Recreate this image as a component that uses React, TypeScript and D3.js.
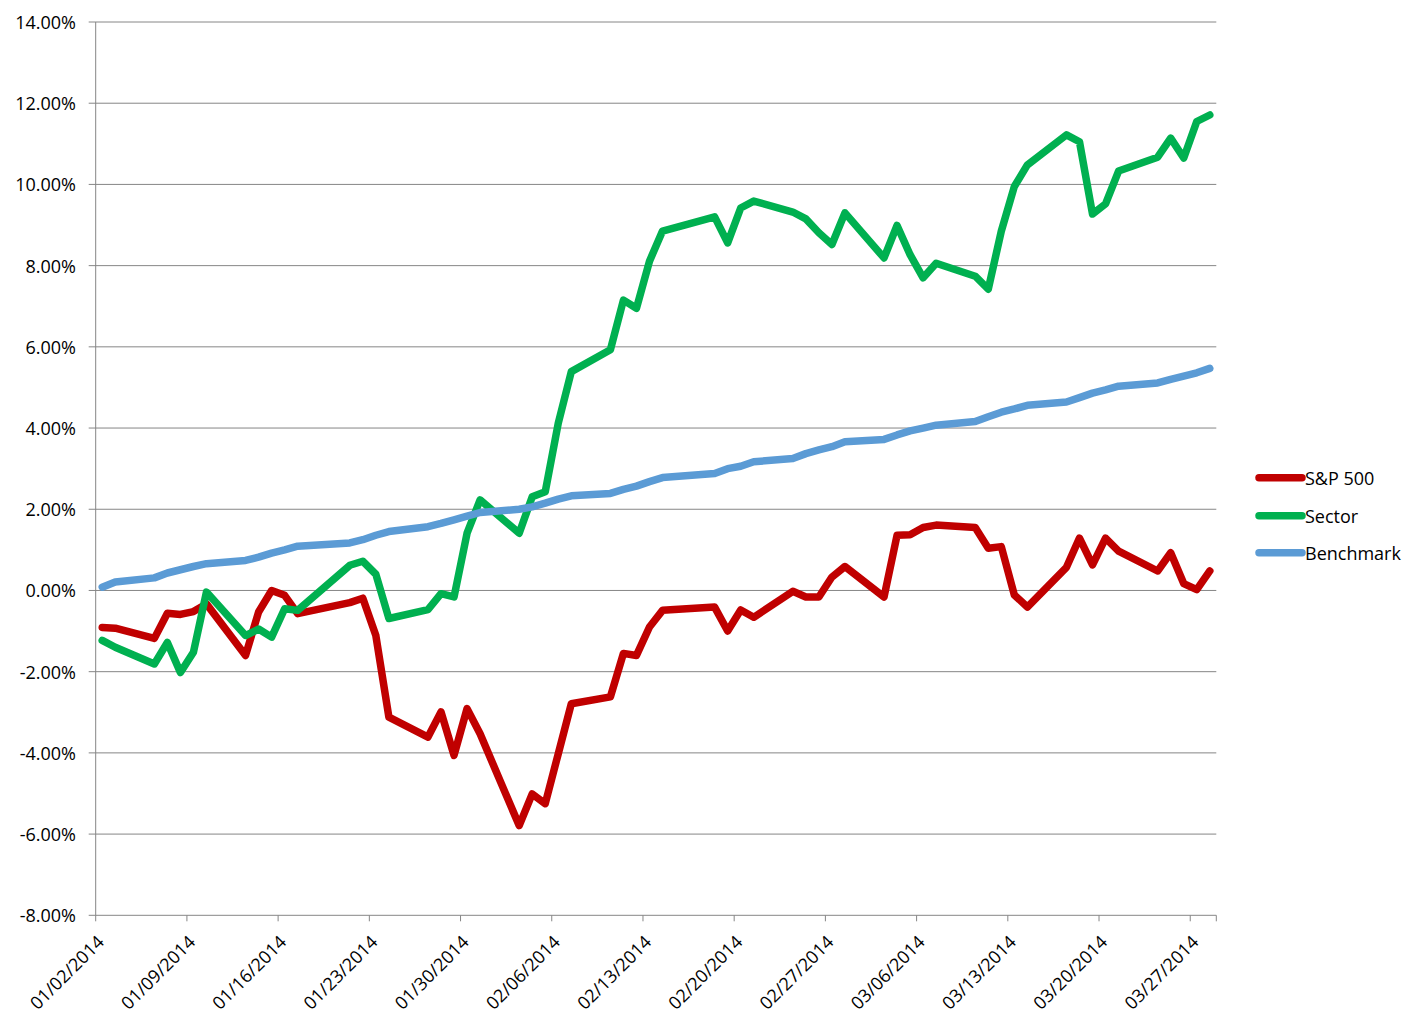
import React from "react";
import * as d3 from "d3";

const tradingDates: string[] = [
  "2014-01-02","2014-01-03","2014-01-06","2014-01-07","2014-01-08","2014-01-09","2014-01-10",
  "2014-01-13","2014-01-14","2014-01-15","2014-01-16","2014-01-17","2014-01-21","2014-01-22",
  "2014-01-23","2014-01-24","2014-01-27","2014-01-28","2014-01-29","2014-01-30","2014-01-31",
  "2014-02-03","2014-02-04","2014-02-05","2014-02-06","2014-02-07","2014-02-10","2014-02-11",
  "2014-02-12","2014-02-13","2014-02-14","2014-02-18","2014-02-19","2014-02-20","2014-02-21",
  "2014-02-24","2014-02-25","2014-02-26","2014-02-27","2014-02-28",
  "2014-03-03","2014-03-04","2014-03-05","2014-03-06","2014-03-07","2014-03-10","2014-03-11",
  "2014-03-12","2014-03-13","2014-03-14","2014-03-17","2014-03-18","2014-03-19","2014-03-20",
  "2014-03-21","2014-03-24","2014-03-25","2014-03-26","2014-03-27","2014-03-28",
];

// values in percent
const sp500: number[] = [
  -0.91, -0.93, -1.18, -0.56, -0.59, -0.52, -0.33, -1.60, -0.53, 0.0, -0.12, -0.57, -0.30, -0.19,
  -1.11, -3.12, -3.61, -2.99, -4.06, -2.91, -3.53,
  -5.79, -5.01, -5.25, -4.02, -2.79, -2.62, -1.55, -1.60, -0.90, -0.49, -0.41, -1.0, -0.48, -0.66,
  -0.02, -0.16, -0.16, 0.33, 0.59,
  -0.16, 1.36, 1.37, 1.55, 1.61, 1.55, 1.04, 1.08, -0.11, -0.41, 0.57, 1.29, 0.63, 1.29,
  0.97, 0.48, 0.93, 0.17, 0.02, 0.48,
];

const sector: number[] = [
  -1.23, -1.40, -1.81, -1.28, -2.02, -1.52, -0.04, -1.11, -0.95, -1.15, -0.45, -0.49, 0.62, 0.72,
  0.40, -0.69, -0.47, -0.08, -0.16, 1.41, 2.23,
  1.41, 2.31, 2.43, 4.12, 5.39, 5.93, 7.15, 6.95, 8.11, 8.85, 9.20, 8.56, 9.42, 9.59,
  9.32, 9.15, 8.81, 8.52, 9.30,
  8.19, 8.99, 8.27, 7.70, 8.06, 7.74, 7.42, 8.85, 9.95, 10.48, 11.22, 11.05, 9.27, 9.52,
  10.33, 10.67, 11.14, 10.65, 11.55, 11.71,
];

const benchmark: number[] = [
  0.08, 0.21, 0.31, 0.43, 0.51, 0.59, 0.66, 0.74, 0.82, 0.92, 1.00, 1.09, 1.17, 1.25,
  1.36, 1.45, 1.57, 1.65, 1.74, 1.83, 1.92,
  2.00, 2.06, 2.15, 2.25, 2.33, 2.39, 2.49, 2.57, 2.68, 2.78, 2.88, 3.00, 3.06, 3.17,
  3.25, 3.37, 3.46, 3.54, 3.66,
  3.72, 3.83, 3.93, 4.00, 4.07, 4.16, 4.28, 4.39, 4.47, 4.56, 4.64, 4.75, 4.86, 4.94,
  5.03, 5.11, 5.20, 5.28, 5.36, 5.47,
];

const seriesNames: string[] = ["S&P 500", "Sector", "Benchmark"];
const seriesColors: string[] = ["#C00000", "#00B050", "#5B9BD5"];

const yTicks: number[] = [-8, -6, -4, -2, 0, 2, 4, 6, 8, 10, 12, 14];
const xTickLabels: string[] = [
  "01/02/2014","01/09/2014","01/16/2014","01/23/2014","01/30/2014","02/06/2014","02/13/2014",
  "02/20/2014","02/27/2014","03/06/2014","03/13/2014","03/20/2014","03/27/2014",
];

const FONT = "'Open Sans', 'Liberation Sans', sans-serif";

export default function App() {
  const W = 1422, H = 1031;
  const left = 95.7, right = 1216.3, top = 22, bottom = 915.3;
  const parse = d3.utcParse("%Y-%m-%d");
  const parseTick = d3.utcParse("%m/%d/%Y");
  const dates = tradingDates.map((s) => parse(s) as Date);

  const x = d3
    .scaleUtc()
    .domain([parse("2014-01-02") as Date, parse("2014-03-29") as Date])
    .range([left, right]);
  const y = d3.scaleLinear().domain([-8, 14]).range([bottom, top]);

  const allSeries = [sp500, sector, benchmark];
  const line = d3
    .line<number>()
    .x((_, i) => x(d3.utcHour.offset(dates[i], 12)))
    .y((v) => y(v));

  const grid = "#868686";
  const legendY = [477.7, 515.7, 552.7];
  const fs = 18;

  return (
    <svg
      width={W}
      height={H}
      style={{ position: "absolute", left: 0, top: 0, background: "#fff" }}
      fontFamily={FONT}
    >
      <rect x={0} y={0} width={W} height={H} fill="#fff" />
      {yTicks.map((t) => (
        <g key={t}>
          <line x1={left - 7} x2={right} y1={y(t)} y2={y(t)} stroke={grid} strokeWidth={1} />
          <text
            x={76}
            y={y(t)}
            textAnchor="end"
            dominantBaseline="central"
            fontSize={fs}
            fill="#000"
          >
            {t.toFixed(2) + "%"}
          </text>
        </g>
      ))}
      <line x1={left} x2={left} y1={top} y2={bottom} stroke={grid} strokeWidth={1} />
      {xTickLabels.map((lab) => {
        const tx = x(parseTick(lab) as Date);
        return (
          <g key={lab}>
            <line x1={tx} x2={tx} y1={bottom} y2={bottom + 6} stroke={grid} strokeWidth={1} />
            <text
              transform={`translate(${tx + 9.5},${bottom + 28}) rotate(-45)`}
              textAnchor="end"
              fontSize={fs}
              fill="#000"
            >
              {lab}
            </text>
          </g>
        );
      })}
      <line x1={right} x2={right} y1={bottom} y2={bottom + 6} stroke={grid} strokeWidth={1} />
      {allSeries.map((s, k) => (
        <path
          key={seriesNames[k]}
          d={line(s) || ""}
          fill="none"
          stroke={seriesColors[k]}
          strokeWidth={7.5}
          strokeLinejoin="round"
          strokeLinecap="round"
        />
      ))}
      {seriesNames.map((n, k) => (
        <g key={n}>
          <line
            x1={1259}
            x2={1302}
            y1={legendY[k]}
            y2={legendY[k]}
            stroke={seriesColors[k]}
            strokeWidth={7.5}
            strokeLinecap="round"
          />
          <text x={1305} y={legendY[k]} dominantBaseline="central" fontSize={fs} fill="#000">
            {n}
          </text>
        </g>
      ))}
    </svg>
  );
}
